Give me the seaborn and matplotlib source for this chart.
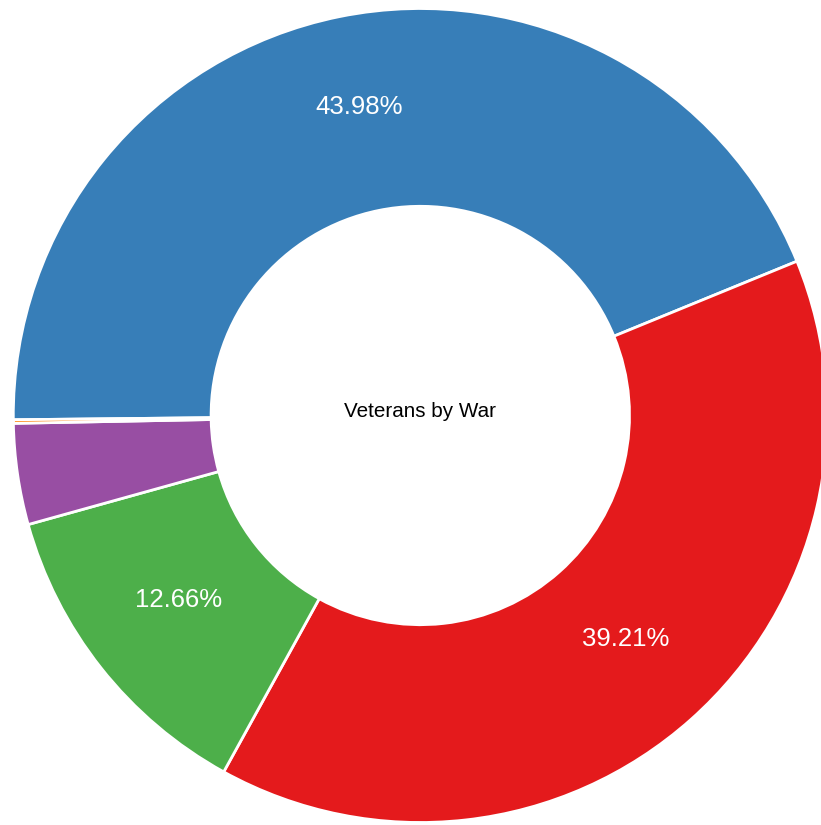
import seaborn as sns
import matplotlib.pyplot as plt

sns.set_theme(style="white")
plt.rcParams['font.family'] = ['Liberation Sans', 'DejaVu Sans']

wars = ['Blue', 'Red', 'Green', 'Purple', 'Orange']
shares = [43.98, 39.21, 12.66, 4.01, 0.14]

set1 = sns.color_palette("Set1")
colors = [set1[1], set1[0], set1[2], set1[3], set1[4]]

fig = plt.figure(figsize=(8.21, 8.25), dpi=100)
ax = fig.add_axes([0, 0, 1, 1])

r = 407.0
cx, cy = 420.3, 415.5
wedges, texts, autotexts = ax.pie(
    shares, colors=colors, startangle=180.6, counterclock=False,
    radius=1.0, pctdistance=0.757,
    autopct=lambda p: f'{p:.2f}%' if p > 5 else '',
    wedgeprops=dict(width=0.486, edgecolor='white', linewidth=2),
    textprops=dict(color='white', fontsize=18.5))
for t in autotexts:
    t.set_va('baseline')

ax.text(0, 0.01, 'Veterans by War', ha='center', va='center',
        fontsize=14.9, color='black')

ax.set_aspect('auto')
ax.set_xlim(-cx / r, (821 - cx) / r)
ax.set_ylim(-(825 - cy) / r, cy / r)
ax.axis('off')

fig.savefig('out.png', dpi=100)
